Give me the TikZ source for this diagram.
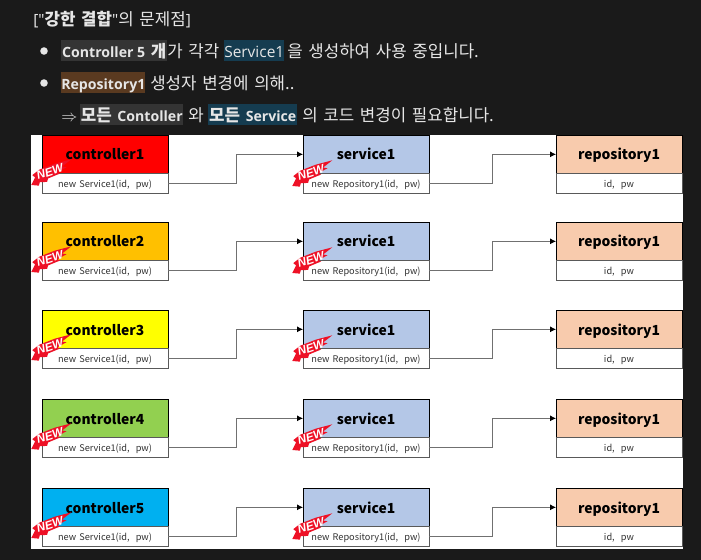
\documentclass[tikz,border=0pt]{standalone}
\usepackage{fontspec}
\setmainfont[WordSpace=1.5]{Noto Sans CJK KR}
\newfontfamily\badgefont{Liberation Sans}
\newfontfamily\latinfont{Open Sans}
\usetikzlibrary{positioning,arrows.meta}
\definecolor{pagebg}{HTML}{1A1A1A}
\definecolor{bodytxt}{HTML}{E6E6E6}
\definecolor{hlgray}{HTML}{343434}
\definecolor{hlblue}{HTML}{153C50}
\definecolor{hlbrown}{HTML}{5A3A20}
\definecolor{ctrlred}{HTML}{FF0000}
\definecolor{ctrlorange}{HTML}{FFC000}
\definecolor{ctrlyellow}{HTML}{FFFF00}
\definecolor{ctrlgreen}{HTML}{92D050}
\definecolor{ctrlblue}{HTML}{00B0F0}
\definecolor{svcblue}{HTML}{B4C7E7}
\definecolor{repopeach}{HTML}{F8CBAD}
\definecolor{wiregray}{HTML}{707070}
\definecolor{badgered}{HTML}{EE1126}
\newcommand{\lat}[1]{{\latinfont\fontsize{11.6pt}{13pt}\selectfont #1}}
\newcommand{\latb}[1]{{\latinfont\fontsize{10.6pt}{13pt}\selectfont\bfseries #1}}
\tikzset{
    line/.style={text=bodytxt, font=\fontsize{12.6pt}{14pt}\selectfont, inner sep=0pt, anchor=west, text height=12.5pt, text depth=2.5pt},
    mark box/.style={line, minimum height=15.75pt},
    head/.style={draw=black, line width=0.7pt, minimum width=94.5pt, minimum height=29pt, inner sep=0pt, outer sep=0pt, anchor=north west, text height=10.5pt, text depth=2pt, font=\fontsize{10.4pt}{13pt}\selectfont\bfseries},
    sub/.style={draw=black!65, line width=0.6pt, fill=white, minimum width=94.5pt, minimum height=15pt, inner sep=0pt, outer sep=0pt, text height=7pt, text depth=1.5pt, font=\fontsize{6.9pt}{8pt}\selectfont, text=black!80},
    wire/.style={draw=wiregray, line width=0.6pt, -{Latex[black,length=4.5pt,width=4.5pt]}},
    newbadge/.pic={
        \fill[badgered, rotate=18] (-21,4) -- (-15,-2) -- (-17,-5) -- (-9,-8) -- (8,-9) -- (25,-8)
            -- (14,-4) -- (18,-2) -- (8,0) -- (10,2) -- (-3,3) -- (-5,6) -- (-12,4) -- (-14,7) -- cycle;
        \node[rotate=18, text=white, inner sep=0pt, font=\badgefont\fontsize{8.8pt}{9pt}\selectfont\bfseries\itshape] (-label) at (0,-3) {NEW};
    }
}
\begin{document}
\begin{tikzpicture}[x=0.75pt, y=-0.75pt, node distance=0pt]
    \useasboundingbox (0,0) rectangle (701,560);
    \fill[pagebg] (0,0) rectangle (701,560);
    \fill[white] (31,135) rectangle (683,549);

    % 위쪽 설명
    \node[line] (title) at (33,19) {\lat{["}\textbf{강한 결합}\lat{"}의 문제점\lat{]}};
    \node[circle, fill=bodytxt, inner sep=2pt] (dot1) at (44,51) {};
    \node[circle, fill=bodytxt, inner sep=2pt] (dot2) at (44,83) {};
    \node[mark box, fill=hlgray, minimum width=79.5pt] (ctrlmark) at (61,51) {\latb{Controller 5} \textbf{개}};
    \node[line] (ctrltxt) at (167,51) {가 각각};
    \node[mark box, fill=hlblue, minimum width=43.5pt] (svcmark) at (224,51) {\lat{Service1}};
    \node[line] (svctxt) at (287,51) {을 생성하여 사용 중입니다.};
    \node[mark box, fill=hlbrown, minimum width=63pt] (repomark) at (61,83) {\latb{Repository1}};
    \node[line] (repotxt) at (150,83) {생성자 변경에 의해..};
    \node[line] (then) at (61,115) {$\Rightarrow$};
    \node[mark box, fill=hlgray, minimum width=77.25pt] (allctrl) at (80,115) {\textbf{모든} \latb{Contoller}};
    \node[line] (wa) at (188,115) {와};
    \node[mark box, fill=hlblue, minimum width=66.75pt] (allsvc) at (208,115) {\textbf{모든} \latb{Service}};
    \node[line] (alltxt) at (302,115) {의 코드 변경이 필요합니다.};

    % 다섯 줄
    \foreach \i/\y/\col in {1/135/ctrlred, 2/222/ctrlorange, 3/310/ctrlyellow, 4/399/ctrlgreen, 5/488/ctrlblue} {
        % controller
        \node[head, fill=\col] (c\i) at (42,\y) {controller\i};
        \node[sub, below=of c\i] (cs\i) {new Service1(id,\ \ pw)};
        % service
        \node[head, fill=svcblue] (s\i) at (303,\y) {service1};
        \node[sub, below=of s\i] (ss\i) {new Repository1(id,\ \ pw)};
        % repository
        \node[head, fill=repopeach] (r\i) at (556,\y) {repository1};
        \node[sub, below=of r\i] (rs\i) {id,\ \ pw};
        % 연결선
        \draw[wire] (cs\i.east) -- ++(68,0) |- (s\i.west);
        \draw[wire] (ss\i.east) -- ++(63,0) |- (r\i.west);
        % NEW 표시
        \pic (cb\i) at ([shift={(8,1)}]c\i.south west) {newbadge};
        \pic (sb\i) at ([shift={(8,2)}]s\i.south west) {newbadge};
    }
\end{tikzpicture}
\end{document}
